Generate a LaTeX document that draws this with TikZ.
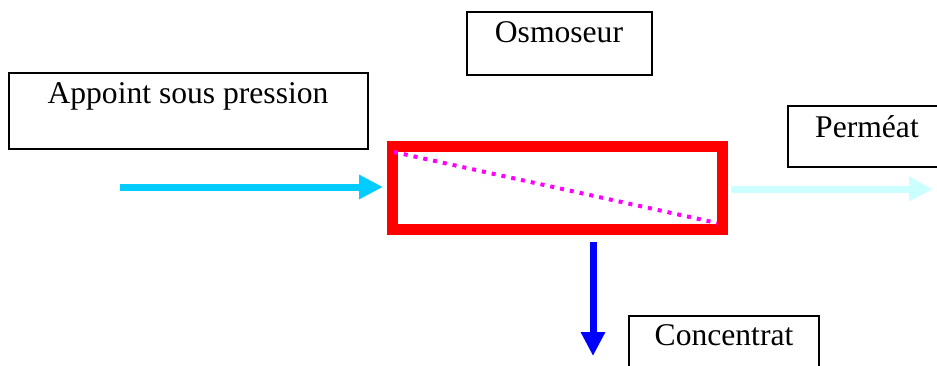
\documentclass[tikz,border=0pt]{standalone}
\usepackage{fontspec}
\setmainfont{Liberation Serif}
\usetikzlibrary{arrows.meta}
\definecolor{inflow}{HTML}{00CCFF}
\definecolor{permflow}{HTML}{CCFFFF}
\definecolor{concflow}{HTML}{0000FF}
\definecolor{osmred}{HTML}{FF0000}
\definecolor{diag}{HTML}{FF00FF}
\begin{document}
\begin{tikzpicture}[x=1pt,y=-1pt,
  labelbox/.style={draw=black,line width=1.6pt},
  labeltext/.style={anchor=base,inner sep=0pt,font=\fontsize{31.6}{36}\selectfont},
  flow/.style={line width=7pt,-{Triangle[length=24pt,width=23pt]}},
]
\useasboundingbox (0,0) rectangle (937,365);
% label boxes
\draw[labelbox] (9,73) rectangle (368,149);
\node[labeltext] (tapp) at (188,103) {Appoint sous pression};
\draw[labelbox] (467,12) rectangle (652,75);
\node[labeltext] (tosm) at (559,42) {Osmoseur};
\draw[labelbox] (788,106) rectangle (945,167);
\node[labeltext] (tper) at (867,137) {Perméat};
\draw[labelbox] (629,316) rectangle (819,375);
\node[labeltext] (tcon) at (724,345) {Concentrat};
% osmoseur module
\node[draw=osmred,line width=11pt,minimum width=330pt,minimum height=83pt,inner sep=0pt] (osm) at (557.5,188) {};
\coordinate (dA) at (394,152);
\coordinate (dB) at (717,223);
\draw[diag,line width=4pt,dash pattern=on 4pt off 6pt] (dA) -- (dB);
% flows
\coordinate (inS) at (120,187);
\coordinate (inE) at (383,187);
\draw[flow,inflow] (inS) -- (inE);
\coordinate (peS) at (731,189);
\coordinate (peE) at (933,189);
\draw[flow,permflow] (peS) -- (peE);
\coordinate (coS) at (593,242);
\coordinate (coE) at (593,356);
\draw[flow,concflow] (coS) -- (coE);
\end{tikzpicture}
\end{document}
